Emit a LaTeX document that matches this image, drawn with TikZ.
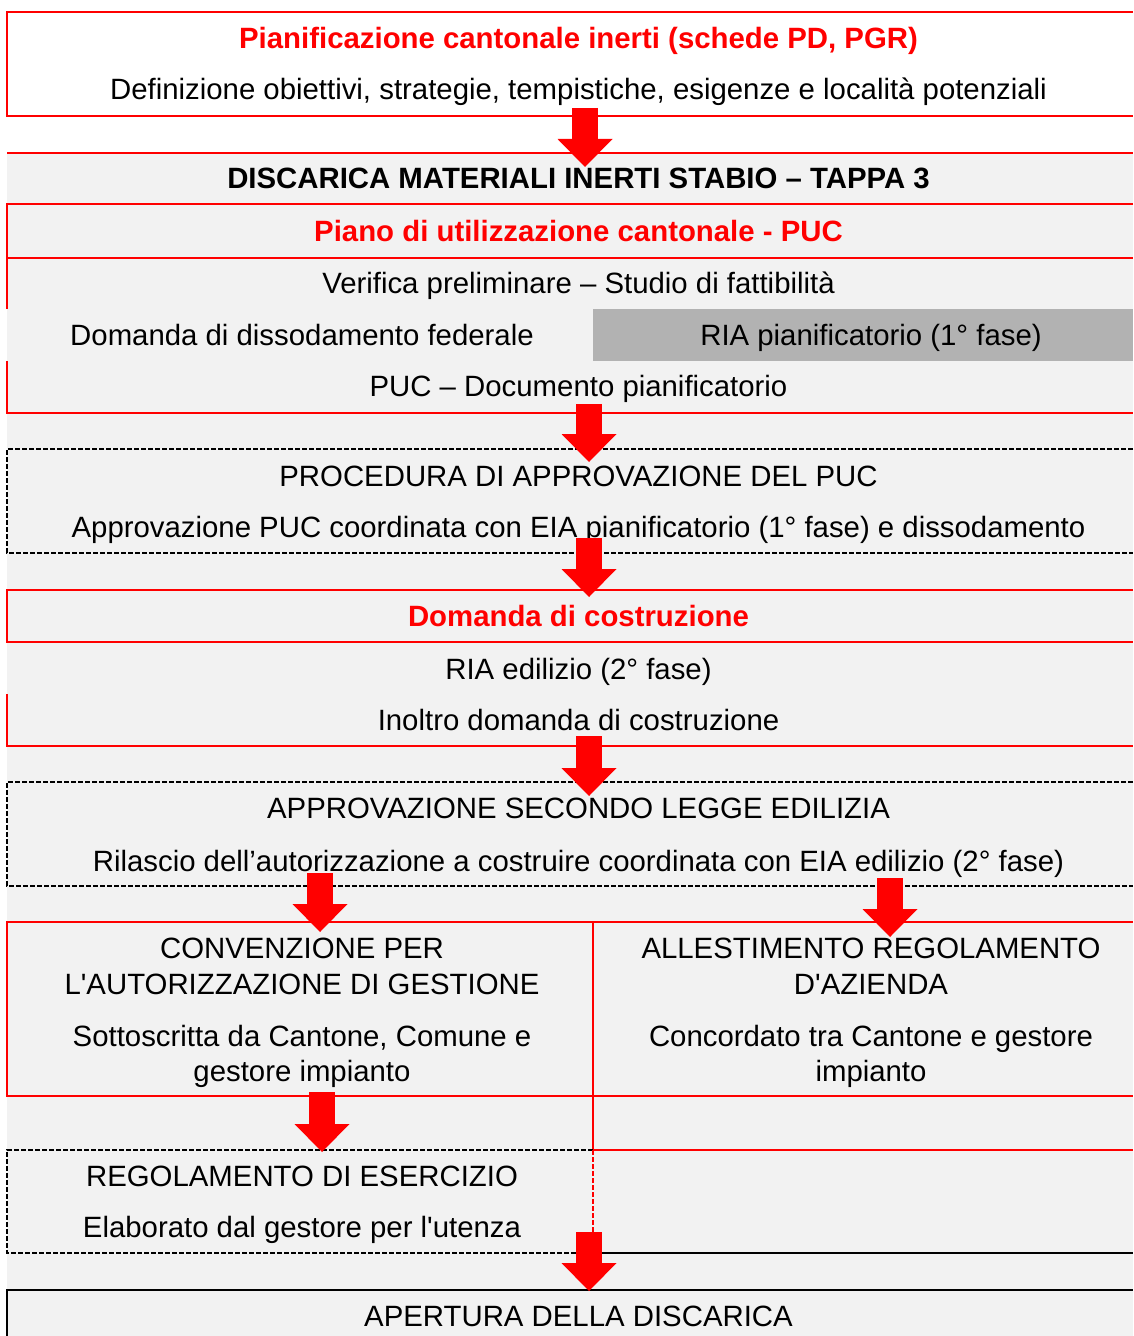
\documentclass[tikz,border=0pt]{standalone}
\usepackage{fontspec}
\setmainfont{Liberation Sans}
\usetikzlibrary{arrows.meta}
\definecolor{ticred}{RGB}{255,0,0}
\definecolor{cellgray}{RGB}{242,242,242}
\definecolor{riagray}{RGB}{178,178,178}

\begin{document}
\begin{tikzpicture}[
  x=0.5pt, y=-0.5pt,
  lbl/.style={font=\fontsize{14.68}{17.6}\selectfont, inner sep=0pt, anchor=base},
  lbltwo/.style={lbl, align=center, anchor=north},
  redtitle/.style={lbl, font=\fontsize{14.68}{17.6}\selectfont\bfseries, text=ticred},
  boldtitle/.style={lbl, font=\fontsize{14.68}{17.6}\selectfont\bfseries},
  redline/.style={draw=ticred, line width=1pt},
  dashline/.style={draw=black, line width=0.65pt, dash pattern=on 2.5pt off 1pt},
  reddash/.style={draw=ticred, line width=0.65pt, dash pattern=on 2.5pt off 1pt},
  blackline/.style={draw=black, line width=0.75pt},
  bigarrow/.style={draw=ticred, line width=13pt,
                   -{Triangle[length=14pt, width=27.5pt, line width=0pt]}}
]
\useasboundingbox (0,0) rectangle (1133,1336);
\fill[cellgray] (7,153) rectangle (1133,1336);

% planning block
\draw[redline] (1133,12) -- (7,12) -- (7,116) -- (1133,116);
\node[redtitle] (pian) at (578.5,49) {Pianificazione cantonale inerti (schede PD, PGR)};
\node[lbl] (defin) at (578.5,100) {Definizione obiettivi, strategie, tempistiche, esigenze e località potenziali};

% PUC block
\draw[redline] (7,153) -- (1133,153);
\draw[redline] (1133,204) -- (7,204) -- (7,309);
\draw[redline] (7,258) -- (1133,258);
\fill[riagray] (593,309) rectangle (1133,361);
\draw[redline] (7,361) -- (7,413) -- (1133,413);
\node[boldtitle] (tappa) at (578.5,189) {DISCARICA MATERIALI INERTI STABIO -- TAPPA 3};
\node[redtitle] (puc) at (578.5,242) {Piano di utilizzazione cantonale - PUC};
\node[lbl] (verif) at (578.5,294) {Verifica preliminare -- Studio di fattibilità};
\node[lbl] (disso) at (302,346) {Domanda di dissodamento federale};
\node[lbl] (riap) at (871,346) {RIA pianificatorio (1° fase)};
\node[lbl] (pucdoc) at (578.5,397) {PUC -- Documento pianificatorio};

% approval of the PUC
\draw[dashline] (1133,449) -- (7,449) -- (7,553) -- (1133,553);
\node[lbl] (proc) at (578.5,486) {PROCEDURA DI APPROVAZIONE DEL PUC};
\node[lbl] (approv) at (578.5,537) {Approvazione PUC coordinata con EIA pianificatorio (1° fase) e dissodamento};

% building permit request
\draw[redline] (1133,590) -- (7,590) -- (7,642) -- (1133,642);
\draw[redline] (7,694) -- (7,746) -- (1133,746);
\node[redtitle] (domc) at (578.5,626) {Domanda di costruzione};
\node[lbl] (riae) at (578.5,679) {RIA edilizio (2° fase)};
\node[lbl] (inol) at (578.5,730) {Inoltro domanda di costruzione};

% approval under building law
\draw[dashline] (1133,782) -- (7,782) -- (7,886) -- (1133,886);
\node[lbl] (legge) at (578.5,818) {APPROVAZIONE SECONDO LEGGE EDILIZIA};
\node[lbl] (rilas) at (578.5,871) {Rilascio dell’autorizzazione a costruire coordinata con EIA edilizio (2° fase)};

% agreement and company rules
\draw[redline] (1133,922) -- (7,922) -- (7,1096) -- (1133,1096);
\draw[redline] (593,922) -- (593,1150) -- (1133,1150);
\node[lbltwo] (conv) at (302,938) {CONVENZIONE PER\\L\textquotesingle AUTORIZZAZIONE DI GESTIONE};
\node[lbltwo] (sotto) at (302,1025) {Sottoscritta da Cantone, Comune e\\gestore impianto};
\node[lbltwo] (alles) at (871,938) {ALLESTIMENTO REGOLAMENTO\\D\textquotesingle AZIENDA};
\node[lbltwo] (conc) at (871,1025) {Concordato tra Cantone e gestore\\impianto};

% operating rules
\draw[dashline] (593,1150) -- (7,1150) -- (7,1253) -- (593,1253);
\draw[reddash] (593,1150) -- (593,1253);
\draw[blackline] (593,1253) -- (1133,1253);
\node[lbl] (regol) at (302,1186) {REGOLAMENTO DI ESERCIZIO};
\node[lbl] (elab) at (302,1237) {Elaborato dal gestore per l\textquotesingle utenza};

% opening
\draw[blackline] (7,1340) -- (7,1290) -- (1133,1290);
\node[lbl] (apert) at (578.5,1326) {APERTURA DELLA DISCARICA};

% arrows
\coordinate (a1s) at (585,108);  \coordinate (a1e) at (585,167);
\coordinate (a2s) at (589,404);  \coordinate (a2e) at (589,462);
\coordinate (a3s) at (589,538);  \coordinate (a3e) at (589,597);
\coordinate (a4s) at (589,736);  \coordinate (a4e) at (589,796);
\coordinate (a5s) at (320,873);  \coordinate (a5e) at (320,932);
\coordinate (a6s) at (890,878);  \coordinate (a6e) at (890,937);
\coordinate (a7s) at (322,1092); \coordinate (a7e) at (322,1152);
\coordinate (a8s) at (589,1232); \coordinate (a8e) at (589,1291);
\draw[bigarrow] (a1s) -- (a1e);
\draw[bigarrow] (a2s) -- (a2e);
\draw[bigarrow] (a3s) -- (a3e);
\draw[bigarrow] (a4s) -- (a4e);
\draw[bigarrow] (a5s) -- (a5e);
\draw[bigarrow] (a6s) -- (a6e);
\draw[bigarrow] (a7s) -- (a7e);
\draw[bigarrow] (a8s) -- (a8e);
\end{tikzpicture}
\end{document}
